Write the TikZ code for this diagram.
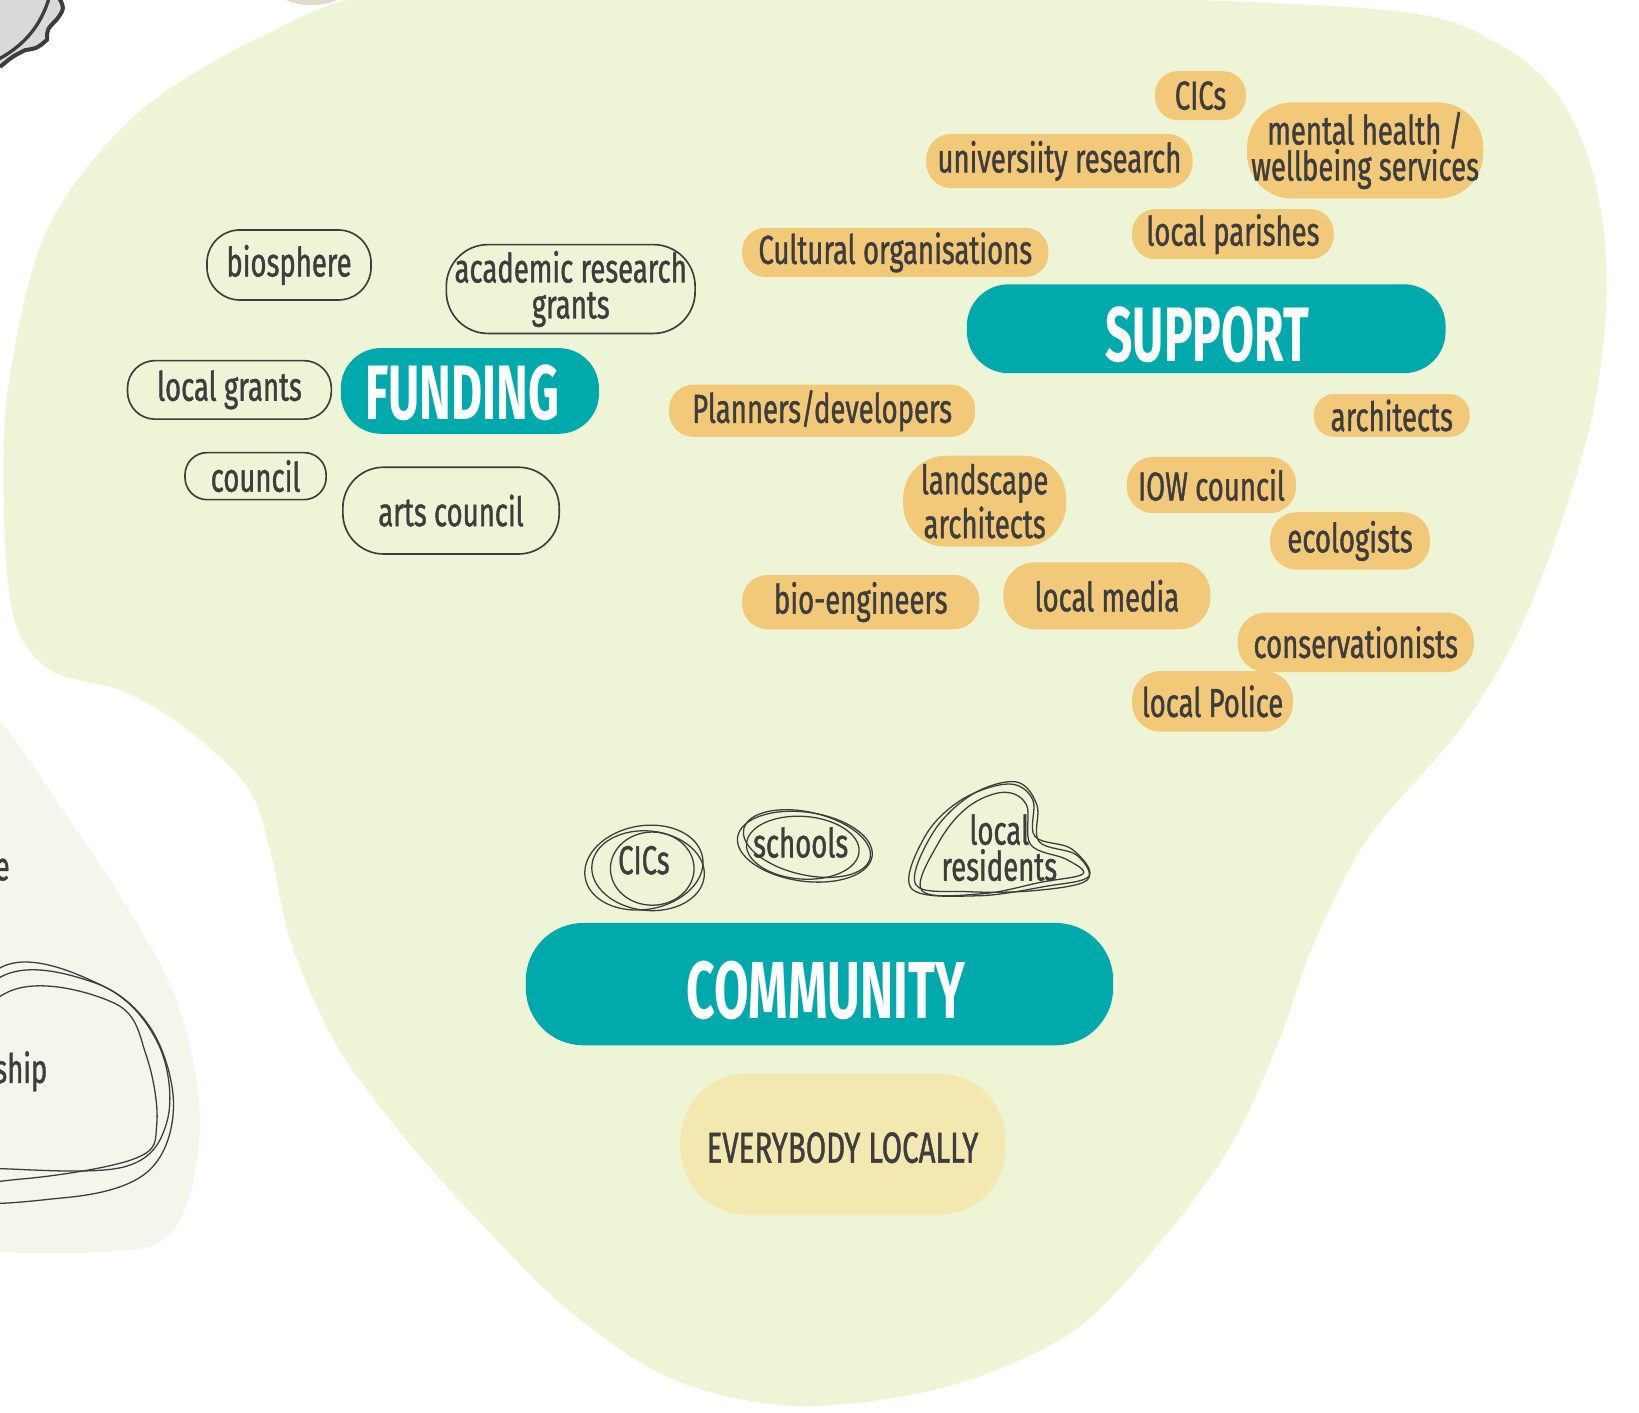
\documentclass[tikz,border=0pt]{standalone}
\usepackage{fontspec}
\usepackage{tikz}
\usetikzlibrary{positioning}

\newfontfamily\handfont{Fira Sans}[FakeStretch=0.68, FakeBold=1]
\newfontfamily\headfont{Fira Sans}[FakeStretch=0.62]

\definecolor{ground}{HTML}{EEF5D6}
\definecolor{paleground}{HTML}{F3F6EB}
\definecolor{teal}{HTML}{00A9AC}
\definecolor{sand}{HTML}{F2C978}
\definecolor{cream}{HTML}{F2E8B0}
\definecolor{ink}{HTML}{3D3D3D}
\definecolor{stone}{HTML}{D9D9D9}
\definecolor{clay}{HTML}{E2D8CE}

% blob through a box: style, left, top, right, bottom
\newcommand{\blob}[5]{%
  \path[#1, rounded corners={0.47*(#5-#3)*0.01cm}] (#2,#3) rectangle (#4,#5);}

% blob with its label in the middle: style, name, left, top, right, bottom, text
\newcommand{\spot}[7]{%
  \blob{#1}{#3}{#4}{#5}{#6}
  \node[hand] (#2) at ({0.5*(#3+#5)},{0.5*(#4+#6)}) {#7};}

\begin{document}
\begin{tikzpicture}[x=0.01cm, y=-0.01cm,
    hand/.style={font=\handfont\fontsize{11}{9.8}\selectfont, text=ink, align=center, inner sep=0pt},
    head/.style={font=\headfont\bfseries, text=white, inner sep=0pt},
    sandfill/.style={fill=sand},
    outline/.style={draw=ink, line width=0.45pt},
    scrib/.style={draw=ink, line width=0.35pt}]

    \useasboundingbox (0,0) rectangle (1568,1351);
    \fill[white] (0,0) rectangle (1568,1351);
    \clip (0,0) rectangle (1568,1351);

    % background shapes
    \fill[clay] (298,-12) ellipse [x radius=34, y radius=17];
    \fill[stone] (-5,-5) -- (55,-5) .. controls (62,8) .. (54,19)
        .. controls (45,28) .. (45,38) .. controls (36,46) .. (24,48)
        .. controls (12,54) .. (0,64) -- (-5,64) -- cycle;
    \draw[ink, line width=1.1pt] (55,-5) .. controls (62,8) .. (54,19)
        .. controls (45,28) .. (45,38) .. controls (36,46) .. (24,48)
        .. controls (12,54) .. (0,64);
    \draw[ink, line width=0.9pt] (47,-2) .. controls (38,28) and (20,45) .. (-2,57);

    \fill[paleground] plot[smooth cycle, tension=0.6] coordinates {
        (-60,640) (0,690) (60,775) (120,865) (168,955) (190,1050)
        (185,1130) (160,1183) (110,1197) (0,1198) (-60,1190)};

    \fill[ground] plot[smooth cycle, tension=0.55] coordinates {
        (380,-8) (700,-12) (1000,-5) (1330,10) (1430,40) (1490,90)
        (1525,170) (1537,270) (1525,390) (1490,510) (1450,610) (1395,700)
        (1310,800) (1258,900) (1222,1000) (1175,1100) (1100,1200) (1020,1278)
        (900,1328) (760,1345) (640,1318) (540,1250) (460,1170) (390,1092)
        (322,1000) (278,900) (260,820) (238,755) (182,700) (120,662)
        (50,642) (15,597) (4,500) (8,370) (45,220) (130,110) (250,35)};

    % left neighbour
    \node[hand, anchor=east] (leftword) at (10,832) {e};
    \node[hand, anchor=east] (shipword) at (46,1025) {ship};
    \draw[scrib] plot[smooth cycle, tension=0.6] coordinates {
        (-70,1030) (0,935) (90,940) (145,985) (166,1060) (140,1122) (60,1146) (-60,1140)};
    \draw[scrib] plot[smooth cycle, tension=0.6] coordinates {
        (-70,1040) (0,926) (100,944) (152,1000) (160,1072) (120,1116) (0,1118) (-70,1110)};
    \draw[scrib] plot[smooth cycle, tension=0.6] coordinates {
        (-70,1035) (10,948) (110,960) (140,1010) (150,1075) (130,1108) (20,1128) (-70,1125)};

    % funding
    \blob{fill=teal}{326}{333}{573}{415}
    \node[head, font=\headfont\bfseries\fontsize{21}{21}\selectfont] (funding) at (442,376) {FUNDING};
    \spot{outline}{biosphere}{198}{220}{355}{287}{biosphere}
    \spot{outline}{academic}{427}{234}{665}{319}{academic research\\grants}
    \spot{outline}{localgrants}{122}{345}{317}{401}{local grants}
    \spot{outline}{council}{177}{433}{312}{478}{council}
    \spot{outline}{artscouncil}{328}{447}{535}{530}{arts council}

    % support
    \blob{fill=teal}{925}{272}{1383}{357}
    \node[head, font=\headfont\bfseries\fontsize{21}{21}\selectfont] (support) at (1155,320) {SUPPORT};
    \spot{sandfill}{cics}{1105}{68}{1192}{115}{CICs}
    \spot{sandfill}{mental}{1193}{98}{1419}{190}{mental health /\\wellbeing services}
    \spot{sandfill}{university}{886}{128}{1141}{180}{universiity research}
    \spot{sandfill}{parishes}{1083}{200}{1276}{248}{local parishes}
    \spot{sandfill}{cultural}{710}{218}{1003}{265}{Cultural organisations}
    \spot{sandfill}{planners}{640}{368}{933}{418}{Planners/developers}
    \spot{sandfill}{architects}{1257}{377}{1406}{418}{architects}
    \spot{sandfill}{landscape}{864}{436}{1020}{523}{landscape\\architects}
    \spot{sandfill}{iow}{1078}{437}{1240}{491}{IOW council}
    \spot{sandfill}{ecologists}{1215}{490}{1368}{545}{ecologists}
    \spot{sandfill}{bioeng}{710}{550}{937}{602}{bio-engineers}
    \spot{sandfill}{media}{960}{538}{1158}{602}{local media}
    \spot{sandfill}{conserv}{1184}{586}{1410}{643}{conservationists}
    \spot{sandfill}{police}{1083}{642}{1237}{700}{local Police}

    % community
    \blob{fill=teal}{503}{883}{1065}{1000}
    \node[head, font=\headfont\bfseries\fontsize{22}{22}\selectfont] (community) at (790,948) {COMMUNITY};
    \blob{fill=cream}{651}{1027}{962}{1162}
    \node[hand, font=\handfont\fontsize{11.8}{12}\selectfont] (everybody) at (806,1098) {EVERYBODY LOCALLY};

    \node[hand] (ciccom) at (616,823) {CICs};
    \draw[scrib] (616,830) ellipse [x radius=57, y radius=40, rotate=10];
    \draw[scrib] (620,833) ellipse [x radius=54, y radius=38, rotate=-6];
    \draw[scrib] (624,831) ellipse [x radius=40, y radius=35];

    \node[hand] (schools) at (766,806) {schools};
    \draw[scrib] (770,810) ellipse [x radius=65, y radius=33, rotate=-8];
    \draw[scrib] (772,807) ellipse [x radius=62, y radius=30, rotate=-13];
    \draw[scrib] (768,811) ellipse [x radius=54, y radius=30, rotate=-4];

    \node[hand] (residents) at (956,811) {local\\residents};
    \draw[scrib] plot[smooth cycle, tension=0.6] coordinates {
        (872,850) (885,800) (920,765) (965,750) (988,765) (990,800)
        (1025,812) (1042,838) (1000,848) (935,857)};
    \draw[scrib] plot[smooth cycle, tension=0.6] coordinates {
        (876,846) (893,796) (930,760) (972,748) (992,770) (994,805)
        (1030,818) (1040,842) (990,852) (925,853)};
    \draw[scrib] plot[smooth cycle, tension=0.6] coordinates {
        (882,852) (898,806) (926,772) (960,758) (982,770) (986,808)
        (1020,822) (1036,836) (996,844) (940,855)};

\end{tikzpicture}
\end{document}
